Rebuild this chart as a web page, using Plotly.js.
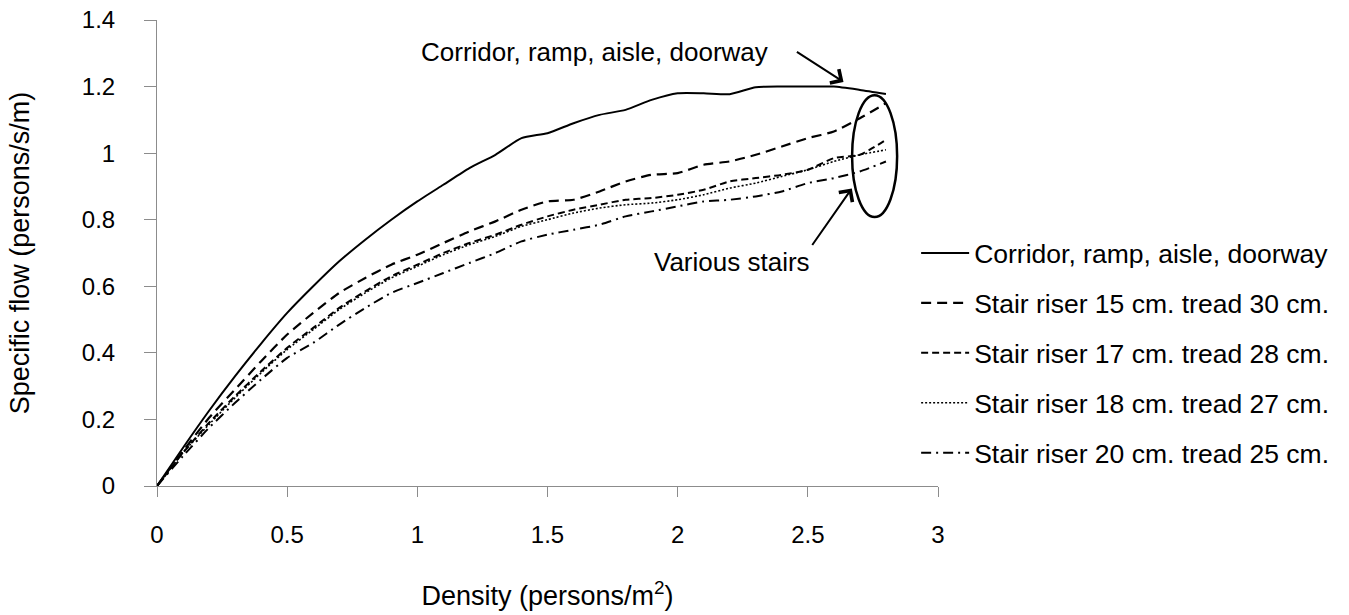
<!DOCTYPE html>
<html>
<head>
<meta charset="utf-8">
<script src="https://cdn.plot.ly/plotly-3.0.1.min.js"></script>
<style>html,body{margin:0;padding:0;background:#fff;}#chart{width:1349px;height:615px;}</style>
</head>
<body>
<div id="chart"></div>
<script>
// Density (persons/m2)
var density = [0, 0.1, 0.2, 0.3, 0.4, 0.5, 0.6, 0.7, 0.8, 0.9, 1.0, 1.1, 1.2, 1.3, 1.4, 1.5, 1.6, 1.7, 1.8, 1.9, 2.0, 2.1, 2.2, 2.3, 2.4, 2.5, 2.6, 2.7, 2.8];
// Specific flow (persons/s/m)
var corridor = [0, 0.115, 0.226, 0.33, 0.428, 0.52, 0.6, 0.675, 0.74, 0.80, 0.855, 0.905, 0.955, 0.995, 1.045, 1.06, 1.09, 1.115, 1.13, 1.16, 1.18, 1.18, 1.177, 1.198, 1.2, 1.2, 1.2, 1.19, 1.178];
var stair15 = [0, 0.105, 0.205, 0.29, 0.375, 0.455, 0.52, 0.58, 0.625, 0.665, 0.695, 0.73, 0.765, 0.795, 0.83, 0.855, 0.86, 0.885, 0.915, 0.935, 0.94, 0.965, 0.975, 0.995, 1.02, 1.045, 1.065, 1.105, 1.15];
var stair17 = [0, 0.1, 0.19, 0.27, 0.345, 0.415, 0.475, 0.535, 0.585, 0.63, 0.665, 0.7, 0.73, 0.755, 0.785, 0.81, 0.83, 0.845, 0.86, 0.865, 0.875, 0.89, 0.915, 0.925, 0.935, 0.95, 0.985, 0.995, 1.04];
var stair18 = [0, 0.1, 0.185, 0.265, 0.34, 0.41, 0.47, 0.53, 0.58, 0.625, 0.66, 0.695, 0.725, 0.75, 0.78, 0.8, 0.82, 0.835, 0.845, 0.85, 0.86, 0.875, 0.895, 0.91, 0.93, 0.95, 0.975, 0.995, 1.01];
var stair20 = [0, 0.09, 0.175, 0.25, 0.32, 0.385, 0.43, 0.485, 0.535, 0.58, 0.61, 0.64, 0.67, 0.70, 0.735, 0.755, 0.77, 0.785, 0.81, 0.825, 0.84, 0.855, 0.86, 0.87, 0.885, 0.91, 0.925, 0.945, 0.975];
var seriesNames = ["Corridor, ramp, aisle, doorway", "Stair riser 15 cm. tread 30 cm.", "Stair riser 17 cm. tread 28 cm.", "Stair riser 18 cm. tread 27 cm.", "Stair riser 20 cm. tread 25 cm."];
var xTicks = [0, 0.5, 1, 1.5, 2, 2.5, 3];
var yTicks = [0, 0.2, 0.4, 0.6, 0.8, 1, 1.2, 1.4];

var FONT = "Liberation Sans, Arial, sans-serif";
var TICKSIZE = 24, TEXTSIZE = 27, NOTESIZE = 26, LEGENDSIZE = 26.5;
var styles = [
  {dash: "solid", width: 2},
  {dash: "10px,6px", width: 2.2},
  {dash: "7px,4px", width: 2},
  {dash: "2px,2px", width: 1.6},
  {dash: "10px,5px,2px,5px", width: 2}
];
var ys = [corridor, stair15, stair17, stair18, stair20];
var traces = ys.map(function (y, i) {
  return {
    x: density, y: y, type: "scatter", mode: "lines", name: seriesNames[i],
    legendgroup: "g" + i,
    line: {color: "#000", width: styles[i].width, dash: styles[i].dash, shape: "spline", smoothing: 0.6}
  };
});

var layout = {
  width: 1349, height: 615,
  margin: {l: 157, r: 411, t: 20, b: 129},
  paper_bgcolor: "#fff", plot_bgcolor: "#fff",
  font: {family: FONT, size: TEXTSIZE, color: "#000"},
  showlegend: true,
  legend: {
    x: 0.972, xanchor: "left", y: 0.551, yanchor: "top",
    font: {family: FONT, size: LEGENDSIZE, color: "#000"},
    tracegroupgap: 12.5, itemwidth: 48, bgcolor: "rgba(0,0,0,0)"
  },
  xaxis: {
    range: [0, 3], tickvals: xTicks, ticktext: xTicks.map(String),
    showgrid: false, zeroline: false, showline: true, linecolor: "#8c8c8c", linewidth: 1,
    ticks: "outside", ticklen: 10, tickcolor: "#8c8c8c", ticklabelstandoff: 17,
    tickfont: {family: FONT, size: TICKSIZE, color: "#000"},
    title: {text: "Density (persons/m<sup>2</sup>)", font: {family: FONT, size: TEXTSIZE, color: "#000"}, standoff: 39},
    fixedrange: true
  },
  yaxis: {
    range: [0, 1.4], tickvals: yTicks, ticktext: yTicks.map(String),
    showgrid: false, zeroline: false, showline: true, linecolor: "#8c8c8c", linewidth: 1,
    ticks: "outside", ticklen: 12, tickcolor: "#8c8c8c", ticklabelstandoff: 24,
    tickfont: {family: FONT, size: TICKSIZE, color: "#000"},
    title: {text: "Specific flow (persons/s/m)", font: {family: FONT, size: TEXTSIZE, color: "#000"}, standoff: 44},
    fixedrange: true
  },
  shapes: [
    {type: "circle", xref: "x", yref: "y", x0: 2.67, x1: 2.843, y0: 0.808, y1: 1.174,
     line: {color: "#000", width: 2.5}}
  ],
  annotations: [
    {x: 2.637, y: 1.214, xref: "x", yref: "y", ax: 2.458, ay: 1.304, axref: "x", ayref: "y",
     text: "Corridor, ramp, aisle, doorway", showarrow: true, xanchor: "right", yanchor: "middle", borderpad: 28,
     arrowhead: 4, arrowsize: 1.6, arrowwidth: 2, arrowcolor: "#000", standoff: 0, startstandoff: 0,
     font: {family: FONT, size: NOTESIZE, color: "#000"}},
    {x: 2.669, y: 0.894, xref: "x", yref: "y", ax: 2.517, ay: 0.724, axref: "x", ayref: "y",
     text: "Various stairs", showarrow: true, xanchor: "right", yanchor: "top", borderpad: 1,
     arrowhead: 4, arrowsize: 1.6, arrowwidth: 2, arrowcolor: "#000", standoff: 0, startstandoff: 0,
     font: {family: FONT, size: NOTESIZE, color: "#000"}}
  ]
};

Plotly.newPlot("chart", traces, layout, {displayModeBar: false, staticPlot: true});
</script>
</body>
</html>
